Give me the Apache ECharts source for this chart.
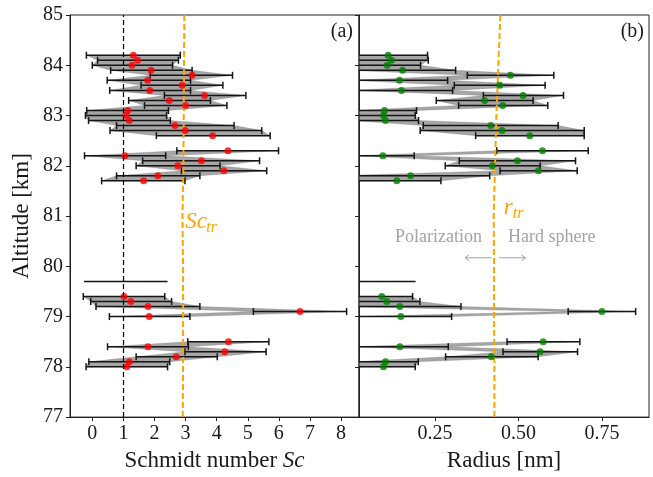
<!DOCTYPE html>
<html>
<head>
<meta charset="utf-8">
<script src="https://cdn.jsdelivr.net/npm/echarts@6/dist/echarts.min.js"></script>
<style>
html,body{margin:0;padding:0;background:#fff;}
#chart{width:653px;height:477px;}
</style>
</head>
<body>
<div id="chart"></div>
<script>
// ---------------- data ----------------
const altitude = [84.2, 84.1, 84.0, 83.9, 83.8, 83.7, 83.6, 83.5, 83.4, 83.3, 83.2, 83.1, 83.0, 82.9, 82.8, 82.7, 82.6,
  82.3, 82.2, 82.1, 82.0, 81.9, 81.8, 81.7,
  79.7, 79.4, 79.3, 79.2, 79.1, 79.0,
  78.5, 78.4, 78.3, 78.2, 78.1, 78.0];
const sc = [1.32, 1.46, 1.28, 1.89, 3.21, 1.78, 2.89, 1.85, 3.61, 2.48, 3.00, 1.14, 1.08, 1.19, 2.66, 2.99, 3.87,
  4.36, 1.05, 3.51, 2.75, 4.23, 2.11, 1.65,
  null, 1.02, 1.24, 1.79, 6.68, 1.83,
  4.38, 1.79, 4.26, 2.70, 1.19, 1.11];
const scLow = [-0.19, 0.17, 0.00, 0.59, 1.86, 0.48, 1.57, 0.56, 2.32, 1.17, 1.68, -0.18, -0.22, -0.12, 0.78, 0.57, 2.06,
  2.72, -0.25, 1.62, 1.41, 2.87, 0.78, 0.30,
  -0.27, -0.29, -0.05, 0.12, 5.18, 0.55,
  3.07, 0.49, 2.98, 1.41, -0.11, -0.20];
const scHigh = [2.83, 2.77, 2.58, 3.21, 4.51, 3.16, 4.20, 3.16, 4.94, 3.80, 4.33, 2.45, 2.39, 2.51, 4.56, 5.45, 5.72,
  5.99, 2.36, 5.38, 4.11, 5.61, 3.46, 2.98,
  2.42, 2.33, 2.55, 3.46, 8.18, 3.14,
  5.68, 3.09, 5.59, 4.02, 2.49, 2.42];
const radius = [0.110, 0.120, 0.107, 0.153, 0.476, 0.144, 0.444, 0.150, 0.514, 0.399, 0.453, 0.099, 0.096, 0.102, 0.417, 0.451, 0.534,
  0.572, 0.094, 0.497, 0.422, 0.560, 0.177, 0.136,
  null, 0.091, 0.106, 0.145, 0.750, 0.148,
  0.574, 0.145, 0.565, 0.419, 0.102, 0.096];
const radiusLow = [-0.008, 0.010, 0.007, -0.006, 0.347, 0.000, 0.308, -0.003, 0.395, 0.254, 0.321, 0.003, 0.001, 0.003, 0.215, 0.206, 0.372,
  0.435, 0.000, 0.323, 0.281, 0.445, -0.050, 0.004,
  -0.010, -0.001, 0.007, -0.040, 0.649, -0.004,
  0.466, 0.000, 0.454, 0.282, 0.004, -0.004];
const radiusHigh = [0.228, 0.230, 0.207, 0.312, 0.606, 0.288, 0.580, 0.303, 0.635, 0.544, 0.588, 0.195, 0.191, 0.201, 0.619, 0.697, 0.697,
  0.709, 0.188, 0.671, 0.565, 0.676, 0.414, 0.268,
  0.192, 0.183, 0.205, 0.328, 0.851, 0.300,
  0.684, 0.290, 0.677, 0.559, 0.200, 0.191];
const trAltitude = [85, 84, 83, 82, 81, 80, 79, 78, 77];
const scTransition = [2.96, 2.95, 2.94, 2.93, 2.90, 2.92, 2.92, 2.92, 2.91];
const rTransition = [0.446, 0.440, 0.434, 0.430, 0.426, 0.427, 0.427, 0.428, 0.428];
const scRef = 1;
const scTicks = [0, 1, 2, 3, 4, 5, 6, 7, 8];
const rTicks = [0.25, 0.50, 0.75];

// ---------------- helpers ----------------
const FONT = 'Liberation Serif';
const TXT = '#1a1a1a';

function bandData(lo, hi, ctr) {
  const out = [];
  for (let i = 0; i < altitude.length - 1; i++) {
    if (ctr[i] == null || ctr[i + 1] == null) continue;
    if (Math.abs(altitude[i] - altitude[i + 1] - 0.1) > 0.01) continue;
    out.push([lo[i], altitude[i], hi[i], lo[i + 1], altitude[i + 1], hi[i + 1]]);
  }
  return out;
}
function errData(lo, hi, ctr) {
  return altitude.map((a, i) => [lo[i], a, hi[i], ctr[i] == null ? 0 : 1]);
}
function pointData(ctr) {
  const out = [];
  altitude.forEach((a, i) => { if (ctr[i] != null) out.push([ctr[i], a]); });
  return out;
}
function renderBand(params, api) {
  const p1 = api.coord([api.value(0), api.value(1)]);
  const p2 = api.coord([api.value(3), api.value(4)]);
  const p3 = api.coord([api.value(5), api.value(4)]);
  const p4 = api.coord([api.value(2), api.value(1)]);
  return {
    type: 'polygon',
    shape: { points: [p1, p2, p3, p4] },
    style: { fill: 'rgba(120,120,120,0.66)', stroke: 'rgba(100,100,100,0.4)', lineWidth: 0.6 }
  };
}
function renderErr(params, api) {
  const l = api.coord([api.value(0), api.value(1)]);
  const h = api.coord([api.value(2), api.value(1)]);
  const st = { stroke: '#151515', lineWidth: 1.5 };
  const ch = [{ type: 'line', shape: { x1: l[0], y1: l[1], x2: h[0], y2: h[1] }, style: st }];
  if (api.value(3) === 1) {
    ch.push({ type: 'line', shape: { x1: l[0], y1: l[1] - 3.5, x2: l[0], y2: l[1] + 3.5 }, style: st });
    ch.push({ type: 'line', shape: { x1: h[0], y1: h[1] - 3.5, x2: h[0], y2: h[1] + 3.5 }, style: st });
  }
  return { type: 'group', children: ch };
}

const axisLineStyle = { color: '#222', width: 1 };
const labelStyle = { fontFamily: FONT, fontSize: 20, color: TXT };
const nameRich = {
  n: { fontFamily: FONT, fontSize: 23, color: TXT },
  i: { fontFamily: FONT, fontSize: 23, fontStyle: 'italic', color: TXT }
};

const chart = echarts.init(document.getElementById('chart'), null, { renderer: 'canvas' });

const option = {
  animation: false,
  backgroundColor: '#fff',
  textStyle: { fontFamily: FONT },
  grid: [
    { left: 70, top: 15, width: 289, height: 404, show: true, borderColor: '#222', borderWidth: 1, backgroundColor: 'transparent' },
    { left: 359, top: 15, width: 290, height: 404, show: true, borderColor: '#222', borderWidth: 1, backgroundColor: 'transparent' }
  ],
  xAxis: [
    {
      type: 'value', gridIndex: 0, min: -0.717, max: 8.578,
      axisLine: { show: true, onZero: false, lineStyle: axisLineStyle },
      axisTick: { show: true, inside: false, length: 4, lineStyle: axisLineStyle, customValues: scTicks },
      axisLabel: Object.assign({ margin: 7, customValues: scTicks }, labelStyle),
      splitLine: { show: false },
      name: '{n|Schmidt number }{i|Sc}', nameLocation: 'middle', nameGap: 25,
      nameTextStyle: { fontFamily: FONT, fontSize: 23, color: TXT, rich: nameRich }
    },
    {
      type: 'value', gridIndex: 1, min: 0.0227, max: 0.891,
      axisLine: { show: true, onZero: false, lineStyle: axisLineStyle },
      axisTick: { show: true, inside: false, length: 4, lineStyle: axisLineStyle, customValues: rTicks },
      axisLabel: Object.assign({ margin: 7, customValues: rTicks, formatter: v => v.toFixed(2) }, labelStyle),
      splitLine: { show: false },
      name: '{n|Radius [nm]}', nameLocation: 'middle', nameGap: 25,
      nameTextStyle: { fontFamily: FONT, fontSize: 23, color: TXT, rich: nameRich }
    }
  ],
  yAxis: [
    {
      type: 'value', gridIndex: 0, min: 77, max: 85, interval: 1,
      axisLine: { show: true, onZero: false, lineStyle: axisLineStyle },
      axisTick: { show: true, inside: false, length: 4, lineStyle: axisLineStyle },
      axisLabel: Object.assign({ margin: 7 }, labelStyle),
      splitLine: { show: false },
      name: '{n|Altitude [km]}', nameLocation: 'middle', nameGap: 37, nameRotate: 90,
      nameTextStyle: { fontFamily: FONT, fontSize: 23, color: TXT, rich: nameRich }
    },
    {
      type: 'value', gridIndex: 1, min: 77, max: 85, interval: 1,
      axisLine: { show: true, onZero: false, lineStyle: axisLineStyle },
      axisTick: { show: true, inside: false, length: 4, lineStyle: axisLineStyle },
      axisLabel: { show: false },
      splitLine: { show: false }
    }
  ],
  series: [
    // ----- panel (a)
    {
      type: 'custom', xAxisIndex: 0, yAxisIndex: 0, clip: true, silent: true,
      renderItem: renderBand, encode: { x: [0, 2, 3, 5], y: [1, 4] },
      data: bandData(scLow, scHigh, sc), z: 1
    },
    {
      type: 'custom', xAxisIndex: 0, yAxisIndex: 0, clip: true, silent: true,
      renderItem: renderErr, encode: { x: [0, 2], y: 1 },
      data: errData(scLow, scHigh, sc), z: 2
    },
    {
      type: 'line', xAxisIndex: 0, yAxisIndex: 0, silent: true, showSymbol: false, symbol: 'none',
      data: trAltitude.map((a, i) => [scTransition[i], a]),
      lineStyle: { color: '#FFA500', width: 2, type: [6, 3] }, z: 3,
      markLine: {
        silent: true, symbol: ['none', 'none'], label: { show: false },
        lineStyle: { color: '#000', width: 1.2, type: [5, 3] },
        data: [{ xAxis: scRef }]
      }
    },
    {
      type: 'scatter', xAxisIndex: 0, yAxisIndex: 0, silent: true,
      symbol: 'circle', symbolSize: 7, itemStyle: { color: '#ff0000' },
      data: pointData(sc), z: 4
    },
    // ----- panel (b)
    {
      type: 'custom', xAxisIndex: 1, yAxisIndex: 1, clip: true, silent: true,
      renderItem: renderBand, encode: { x: [0, 2, 3, 5], y: [1, 4] },
      data: bandData(radiusLow, radiusHigh, radius), z: 1
    },
    {
      type: 'custom', xAxisIndex: 1, yAxisIndex: 1, clip: true, silent: true,
      renderItem: renderErr, encode: { x: [0, 2], y: 1 },
      data: errData(radiusLow, radiusHigh, radius), z: 2
    },
    {
      type: 'line', xAxisIndex: 1, yAxisIndex: 1, silent: true, showSymbol: false, symbol: 'none',
      data: trAltitude.map((a, i) => [rTransition[i], a]),
      lineStyle: { color: '#FFA500', width: 2, type: [6, 3] }, z: 3
    },
    {
      type: 'scatter', xAxisIndex: 1, yAxisIndex: 1, silent: true,
      symbol: 'circle', symbolSize: 7, itemStyle: { color: '#008000' },
      data: pointData(radius), z: 4
    }
  ]
};
chart.setOption(option);

// ---------------- annotations ----------------
function px(gi, x, y) { return chart.convertToPixel({ gridIndex: gi }, [x, y]); }
const orange = '#FFA500';
const grey = '#a3a3a3';
const scLbl = px(0, 2.99, 80.88);
const rLbl = px(1, 0.456, 81.16);
const pol = px(1, 0.26, 80.57);
const hard = px(1, 0.6, 80.57);
const arL = [px(1, 0.42, 80.17), px(1, 0.34, 80.17)];
const arR = [px(1, 0.441, 80.17), px(1, 0.521, 80.17)];
function arrow(p, q) {
  const dir = Math.sign(q[0] - p[0]);
  return {
    type: 'group', silent: true, children: [
      { type: 'line', shape: { x1: p[0], y1: p[1], x2: q[0], y2: q[1] }, style: { stroke: grey, lineWidth: 1 } },
      { type: 'polyline', shape: { points: [[q[0] - dir * 4, q[1] - 3], [q[0], q[1]], [q[0] - dir * 4, q[1] + 3]] }, style: { stroke: grey, lineWidth: 1, fill: null } }
    ]
  };
}
chart.setOption({
  graphic: [
    { type: 'text', x: 353, y: 32, silent: true, style: { text: '(a)', font: '20px "' + FONT + '"', fill: TXT, align: 'right', verticalAlign: 'middle' } },
    { type: 'text', x: 644, y: 32, silent: true, style: { text: '(b)', font: '20px "' + FONT + '"', fill: TXT, align: 'right', verticalAlign: 'middle' } },
    { type: 'text', x: scLbl[0], y: scLbl[1], silent: true, style: { text: 'Sc', font: 'italic 23px "' + FONT + '"', fill: orange, align: 'left', verticalAlign: 'middle' } },
    { type: 'text', x: scLbl[0] + 21, y: scLbl[1] + 6, silent: true, style: { text: 'tr', font: 'italic 16px "' + FONT + '"', fill: orange, align: 'left', verticalAlign: 'middle' } },
    { type: 'text', x: rLbl[0], y: rLbl[1], silent: true, style: { text: 'r', font: 'italic 23px "' + FONT + '"', fill: orange, align: 'left', verticalAlign: 'middle' } },
    { type: 'text', x: rLbl[0] + 9, y: rLbl[1] + 6, silent: true, style: { text: 'tr', font: 'italic 16px "' + FONT + '"', fill: orange, align: 'left', verticalAlign: 'middle' } },
    { type: 'text', x: 482, y: pol[1], silent: true, style: { text: 'Polarization', font: '18px "' + FONT + '"', fill: grey, align: 'right', verticalAlign: 'middle' } },
    { type: 'text', x: 508, y: hard[1], silent: true, style: { text: 'Hard sphere', font: '18px "' + FONT + '"', fill: grey, align: 'left', verticalAlign: 'middle' } },
    arrow(arL[0], arL[1]),
    arrow(arR[0], arR[1])
  ]
});
</script>
</body>
</html>
